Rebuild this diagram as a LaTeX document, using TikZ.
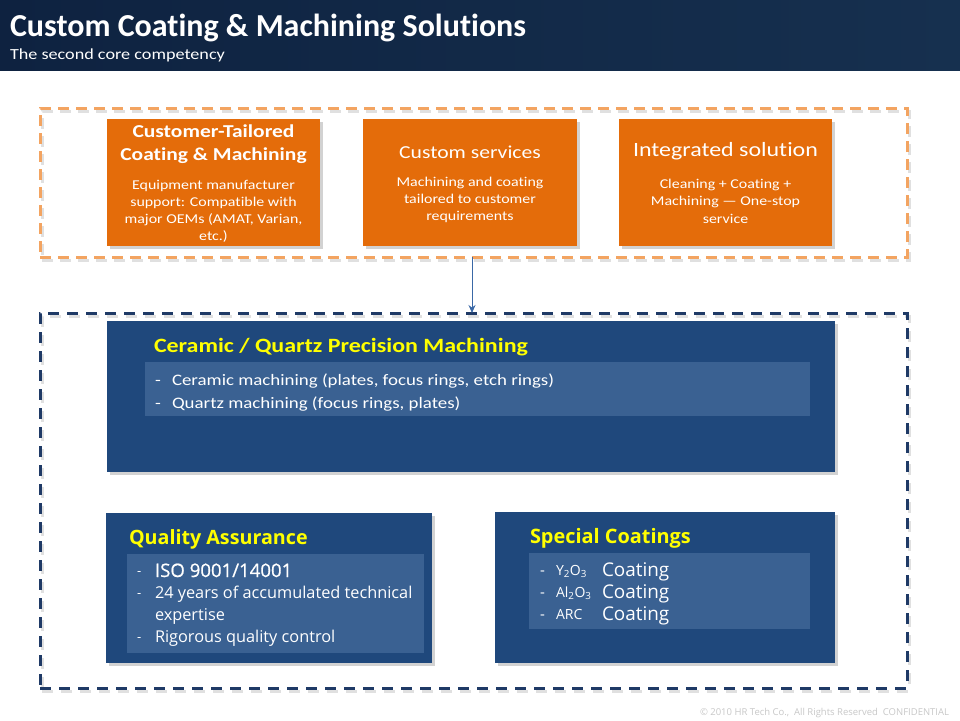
\documentclass[tikz,border=0pt]{standalone}
\usepackage{fontspec}
\setmainfont[RawFeature={-liga;-clig;-calt;-dlig}]{Carlito}
\newfontfamily\calw[FakeStretch=1.18,RawFeature={-liga;-clig;-calt;-dlig}]{Carlito}
\newfontfamily\osans{Open Sans}
\newfontfamily\osanssb[FakeBold=0.8]{Open Sans}
\usetikzlibrary{shadows,arrows.meta}
\definecolor{hdrA}{HTML}{0E2240}
\definecolor{hdrB}{HTML}{16304F}
\definecolor{orbox}{HTML}{E46C0A}
\definecolor{orframe}{HTML}{F3A461}
\definecolor{nvframe}{HTML}{1F3A66}
\definecolor{bluebox}{HTML}{1F487C}
\definecolor{innerbox}{HTML}{3A6192}
\definecolor{ylw}{HTML}{FFFF00}
\definecolor{arrowc}{HTML}{3A68A6}
\definecolor{foot}{HTML}{C8C8C8}
\tikzset{
  boxbase/.style={anchor=north west, inner sep=0pt, outer sep=0pt,
    drop shadow={opacity=0.35, shadow xshift=2.5pt, shadow yshift=-2.5pt}},
  orangebox/.style={boxbase, fill=orbox},
  navybox/.style={boxbase, fill=bluebox},
  innerpanel/.style={anchor=north west, inner sep=0pt, outer sep=0pt, fill=innerbox},
  frameo/.style={anchor=north west, inner sep=0pt, outer sep=0pt, draw=orframe,
    line width=3pt, dash pattern=on 11pt off 7pt},
  framen/.style={anchor=north west, inner sep=0pt, outer sep=0pt, draw=nvframe,
    line width=3pt, dash pattern=on 11pt off 8pt},
  frameshadow/.style={anchor=north west, inner sep=0pt, outer sep=0pt, draw=black,
    opacity=0.12, line width=3pt},
  txt/.style={inner sep=0pt, outer sep=0pt, text=white},
  ctr/.style={txt, anchor=base},
  lft/.style={txt, anchor=base west},
  obody/.style={ctr, font=\calw\fontsize{13.5}{15}\selectfont},
  cerbody/.style={lft, font=\calw\fontsize{16}{18}\selectfont},
  qabody/.style={lft, font=\osans\fontsize{16.3}{18}\selectfont},
  dashmark/.style={lft, font=\osans\fontsize{13}{15}\selectfont},
  scdash/.style={lft, font=\osans\fontsize{15}{17}\selectfont},
  chem/.style={lft, font=\osans\fontsize{14}{16}\selectfont},
  coatw/.style={lft, font=\osans\fontsize{18.9}{20}\selectfont},
}
\begin{document}
\begin{tikzpicture}[x=1pt,y=-1pt]
\useasboundingbox (0,0) rectangle (960,720);
\fill[white] (0,0) rectangle (960,720);
% header
\fill[left color=hdrA, right color=hdrB] (0,0) rectangle (960,70);
\node[lft, font=\bfseries\fontsize{32}{36}\selectfont] (title) at (10,36.5) {Custom Coating \& Machining Solutions};
\node[lft, font=\calw\fontsize{15.4}{17}\selectfont] (subtitle) at (10,59) {The second core competency};

% frames
\node[frameshadow, dash pattern=on 11pt off 7pt, minimum width=867pt, minimum height=149pt] (ofrs) at (42,111) {};
\node[frameo, minimum width=867pt, minimum height=149pt] (ofr) at (40,108) {};
\node[frameshadow, dash pattern=on 11pt off 8pt, minimum width=867pt, minimum height=375pt] (bfrs) at (42,316) {};
\node[framen, minimum width=867pt, minimum height=375pt] (bfr) at (40,313) {};

% orange boxes
\node[orangebox, minimum width=213pt, minimum height=127pt] (b1) at (107,119) {};
\node[orangebox, minimum width=214pt, minimum height=127pt] (b2) at (363,119) {};
\node[orangebox, minimum width=213pt, minimum height=127pt] (b3) at (619,119) {};

\node[ctr, font=\calw\bfseries\fontsize{18.2}{20}\selectfont] (b1t1) at (213.5,137) {Customer-Tailored};
\node[ctr, font=\calw\bfseries\fontsize{18.2}{20}\selectfont] (b1t2) at (213.5,160) {Coating \& Machining};
\node[obody] (b1l1) at (213.5,189) {Equipment manufacturer};
\node[obody] (b1l2) at (213.5,206) {support: Compatible with};
\node[obody] (b1l3) at (213.5,223) {major OEMs (AMAT, Varian,};
\node[obody] (b1l4) at (213.5,240) {etc.)};

\node[ctr, font=\calw\fontsize{18.3}{20}\selectfont] (b2t) at (470,158) {Custom services};
\node[obody] (b2l1) at (470,186) {Machining and coating};
\node[obody] (b2l2) at (470,203) {tailored to customer};
\node[obody] (b2l3) at (470,220.5) {requirements};

\node[ctr, font=\calw\fontsize{20.3}{22}\selectfont] (b3t) at (725.5,156) {Integrated solution};
\node[obody] (b3l1) at (725.5,188.5) {Cleaning + Coating +};
\node[obody] (b3l2) at (725.5,205.5) {Machining — One-stop};
\node[obody] (b3l3) at (725.5,223) {service};

% arrow
\coordinate (ax) at (472,0);
\draw[arrowc, line width=1pt, -{Stealth[length=8pt,width=7pt]}] (ofr.south -| ax) -- (bfr.north -| ax);

% ceramic box
\node[navybox, minimum width=728pt, minimum height=151pt] (cer) at (107,321) {};
\node[innerpanel, minimum width=665pt, minimum height=54pt] (cerin) at (145,362) {};
\node[lft, text=ylw, font=\calw\bfseries\fontsize{20.3}{22}\selectfont] (cert) at (154,352) {Ceramic / Quartz Precision Machining};
\node[cerbody] (cerd1) at (155,385) {-};
\node[cerbody] (cer1) at (172,385) {Ceramic machining (plates, focus rings, etch rings)};
\node[cerbody] (cerd2) at (155,408) {-};
\node[cerbody] (cer2) at (172,408) {Quartz machining (focus rings, plates)};

% quality assurance
\node[navybox, minimum width=326pt, minimum height=150pt] (qa) at (106,513) {};
\node[innerpanel, minimum width=297pt, minimum height=99pt] (qain) at (127,554) {};
\node[lft, text=ylw, font=\osans\bfseries\fontsize{19.7}{22}\selectfont] (qat) at (129,544) {Quality Assurance};
\node[dashmark] (qad1) at (137,575) {-};
\node[lft, font=\osanssb\fontsize{18.6}{21}\selectfont] (qa1) at (155,577) {ISO 9001/14001};
\node[dashmark] (qad2) at (137,597) {-};
\node[qabody] (qa2) at (155,598.5) {24 years of accumulated technical};
\node[qabody] (qa3) at (155,620) {expertise};
\node[dashmark] (qad3) at (137,641) {-};
\node[qabody] (qa4) at (155,642.5) {Rigorous quality control};

% special coatings
\node[navybox, minimum width=340pt, minimum height=151pt] (sc) at (495,512) {};
\node[innerpanel, minimum width=281pt, minimum height=76pt] (scin) at (529,553) {};
\node[lft, text=ylw, font=\osans\bfseries\fontsize{19.9}{22}\selectfont] (sct) at (530,543) {Special Coatings};
\node[scdash] (scd1) at (540,575) {-};
\node[chem] (sc1a) at (556,575) {Y\textsubscript{2}O\textsubscript{3}};
\node[coatw] (sc1b) at (602,576) {Coating};
\node[scdash] (scd2) at (540,597) {-};
\node[chem] (sc2a) at (556,597) {Al\textsubscript{2}O\textsubscript{3}};
\node[coatw] (sc2b) at (602,598) {Coating};
\node[scdash] (scd3) at (540,619) {-};
\node[chem] (sc3a) at (556,619) {ARC};
\node[coatw] (sc3b) at (602,620) {Coating};

% footer
\node[lft, text=foot, font=\osans\fontsize{9.5}{11}\selectfont] (footer) at (700,715) {© 2010 HR Tech Co.,\ \ All Rights Reserved\ \ CONFIDENTIAL};
\end{tikzpicture}
\end{document}
